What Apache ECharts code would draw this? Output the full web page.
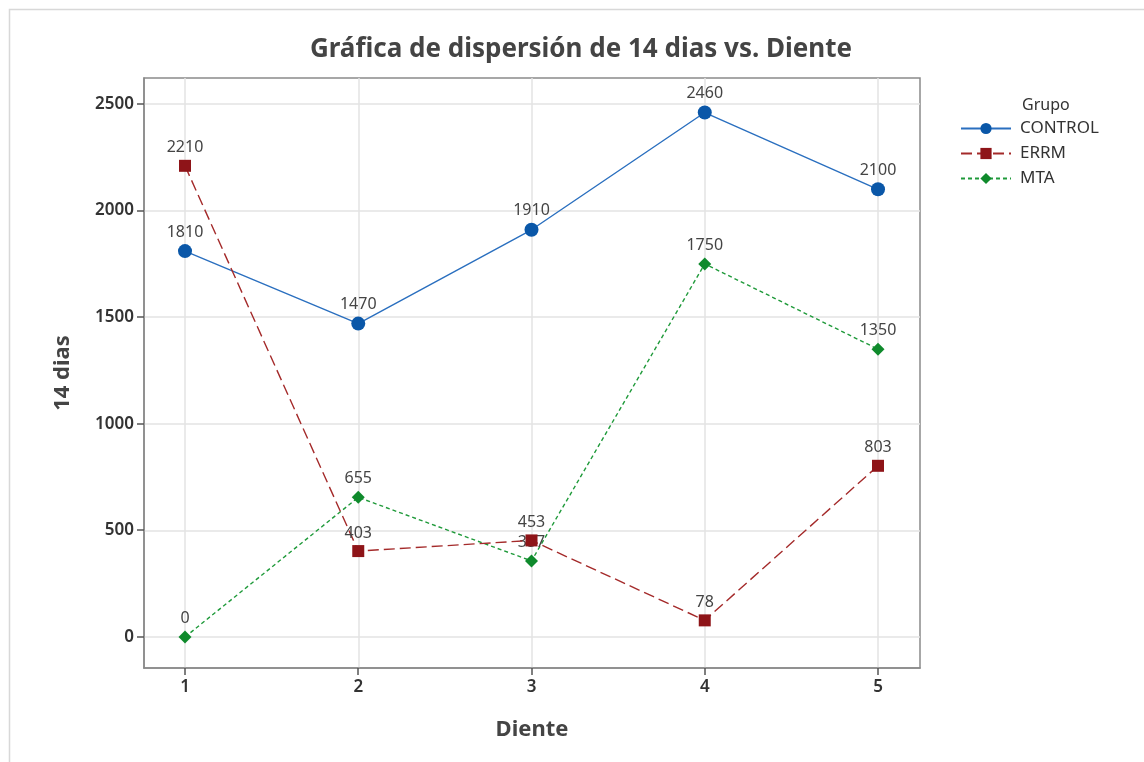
<!DOCTYPE html>
<html><head><meta charset="utf-8">
<script src="https://cdn.jsdelivr.net/npm/echarts@6/dist/echarts.min.js"></script>
<style>html,body{margin:0;padding:0;background:#fff}#c{width:1144px;height:762px}</style>
</head><body><div id="c"></div>
<script>
const dientes = [1, 2, 3, 4, 5];
const control = [1810, 1470, 1910, 2460, 2100];
const errm = [2210, 403, 453, 78, 803];
const mta = [0, 655, 357, 1750, 1350];
const yTicks = [0, 500, 1000, 1500, 2000, 2500];
const xTicks = [1, 2, 3, 4, 5];
const FONT = '"Noto Sans", "Open Sans", sans-serif';
const X_MIN = 0.7633, X_MAX = 5.2424, Y_MIN = -145.4, Y_MAX = 2621.9;
const GRID = {left:144, top:78, width:776, height:590};

function pts(vals){ return dientes.map((d,i)=>[d, vals[i]]); }

const chart = echarts.init(document.getElementById('c'), null, {renderer:'canvas'});
const labelStyle = {show:true, position:'top', distance:4, color:'#444', fontSize:16, fontFamily:FONT};
chart.setOption({
  animation:false,
  backgroundColor:'#fff',
  title:[{text:'Gráfica de dispersión de 14 dias vs. Diente', left:576, top:32, textAlign:'center',
    textStyle:{fontSize:26, fontWeight:'bold', color:'#444', fontFamily:FONT}},
    {text:'Grupo', left:1017, top:92, textStyle:{fontSize:16, fontWeight:'normal', color:'#333', fontFamily:FONT}}],
  grid:Object.assign({show:true, borderColor:'#8a8a8a', borderWidth:1.5, backgroundColor:'#fff'}, GRID),
  legend:{orient:'vertical', left:955, top:115, itemWidth:50, itemHeight:14, itemGap:8,
    textStyle:{fontSize:17, color:'#333', fontFamily:FONT, padding:[0,0,0,4]},
    data:['CONTROL','ERRM','MTA']},
  xAxis:{type:'value', min:X_MIN, max:X_MAX, name:'Diente', nameLocation:'middle', nameGap:51,
    nameTextStyle:{fontSize:22, fontWeight:'bold', color:'#444', fontFamily:FONT},
    axisLine:{show:true, onZero:false, lineStyle:{color:'#8a8a8a', width:1.5}},
    axisTick:{show:false, customValues:xTicks},
    axisLabel:{customValues:xTicks, fontSize:17, fontWeight:600, color:'#333', margin:11, fontFamily:FONT},
    splitLine:{show:true, lineStyle:{color:'#e3e3e3', width:1.5}}},
  yAxis:{type:'value', min:Y_MIN, max:Y_MAX, name:'14 dias', nameLocation:'middle', nameGap:70,
    nameTextStyle:{fontSize:22, fontWeight:'bold', color:'#444', fontFamily:FONT},
    axisLine:{show:true, onZero:false, lineStyle:{color:'#8a8a8a', width:1.5}},
    axisTick:{show:false, customValues:yTicks},
    axisLabel:{customValues:yTicks, formatter:(v)=>String(v), fontSize:17, fontWeight:600, color:'#333', margin:10, fontFamily:FONT},
    splitLine:{show:true, lineStyle:{color:'#e3e3e3', width:1.5}}},
  series:[
    {name:'CONTROL', type:'line', data:pts(control), symbol:'circle', symbolSize:14,
      itemStyle:{color:'#0a57a8'}, lineStyle:{color:'#2a6fbf', width:1.4, type:'solid'}, label:labelStyle, z:3},
    {name:'ERRM', type:'line', data:pts(errm), symbol:'rect', symbolSize:12,
      itemStyle:{color:'#8e1418'}, lineStyle:{color:'#a42a2a', width:1.4, type:[11,5]}, label:labelStyle, z:4},
    {name:'MTA', type:'line', data:pts(mta), symbol:'diamond', symbolSize:13,
      itemStyle:{color:'#0f8a2c'}, lineStyle:{color:'#1f9a3a', width:1.4, type:[4,3]}, label:labelStyle, z:2}
  ]
});

// outward tick marks positioned through the chart's own scales
const g = [{type:'polyline', z:100, shape:{points:[[9.5,762],[9.5,9.5],[1144,9.5]]}, style:{stroke:'#d8d8d8', lineWidth:1.5, fill:null}, silent:true}];
const yBottom = GRID.top + GRID.height, xLeft = GRID.left;
xTicks.forEach(v => {
  const px = Math.round(chart.convertToPixel({xAxisIndex:0}, v));
  g.push({type:'rect', z:100, shape:{x:px - 0.75, y:yBottom, width:1.5, height:7}, style:{fill:'#555'}, silent:true});
});
yTicks.forEach(v => {
  const py = Math.round(chart.convertToPixel({yAxisIndex:0}, v));
  g.push({type:'rect', z:100, shape:{x:xLeft - 7, y:py - 0.75, width:7, height:1.5}, style:{fill:'#555'}, silent:true});
});
chart.setOption({graphic:g});
</script></body></html>
